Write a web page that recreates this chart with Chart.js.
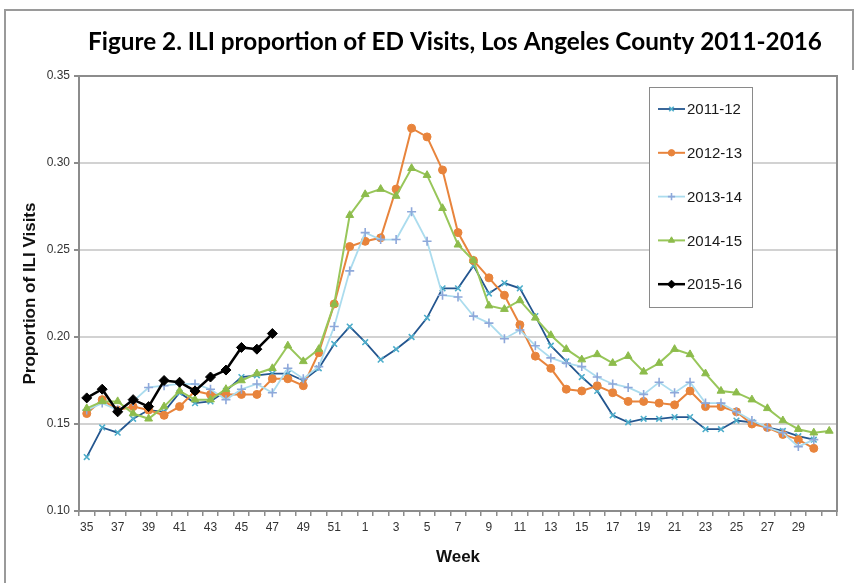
<!DOCTYPE html>
<html>
<head>
<meta charset="utf-8">
<title>ILI proportion of ED Visits</title>
<script src="https://cdn.jsdelivr.net/npm/chart.js@4.4.1/dist/chart.umd.min.js"></script>
<style>
  html, body { margin: 0; padding: 0; background: #fff; }
  #wrap { width: 860px; height: 583px; }
</style>
</head>
<body>
<div id="wrap"><canvas id="iliChart" width="860" height="583"></canvas></div>
<script>
// ====== DATA ======
const TITLE = "Figure 2. ILI proportion of ED Visits, Los Angeles County 2011-2016";
const weeks = ["35","36","37","38","39","40","41","42","43","44","45","46","47","48","49","50","51","52",
  "1","2","3","4","5","6","7","8","9","10","11","12","13","14","15","16","17","18","19","20",
  "21","22","23","24","25","26","27","28","29","30","31"];
const yTicks = { min: 0.10, max: 0.35, step: 0.05 };

const s2011 = [0.131,0.148,0.145,0.153,0.158,0.157,0.168,0.162,0.163,0.169,0.177,0.178,0.179,0.179,0.175,0.182,0.196,0.206,
  0.197,0.187,0.193,0.200,0.211,0.228,0.228,0.241,0.225,0.231,0.228,0.212,0.195,0.186,0.177,0.169,0.155,0.151,0.153,0.153,
  0.154,0.154,0.147,0.147,0.152,0.151,0.148,0.146,0.143,0.141,null];
const s2012 = [0.156,0.164,0.158,0.160,0.158,0.155,0.160,0.169,0.167,0.167,0.167,0.167,0.176,0.176,0.172,0.191,0.219,0.252,
  0.255,0.257,0.285,0.320,0.315,0.296,0.260,0.244,0.234,0.224,0.207,0.189,0.182,0.170,0.169,0.172,0.168,0.163,0.163,0.162,
  0.161,0.169,0.160,0.160,0.157,0.150,0.148,0.144,0.141,0.136,null];
const s2013 = [0.158,0.162,0.158,0.163,0.171,0.172,0.173,0.173,0.170,0.164,0.170,0.173,0.168,0.182,0.176,0.183,0.206,0.238,
  0.260,0.256,0.256,0.272,0.255,0.224,0.223,0.212,0.208,0.199,0.204,0.195,0.188,0.185,0.183,0.177,0.173,0.171,0.167,0.174,
  0.168,0.174,0.162,0.162,0.157,0.152,0.148,0.145,0.137,0.141,null];
const s2014 = [0.159,0.163,0.163,0.156,0.153,0.160,0.169,0.164,0.164,0.170,0.175,0.179,0.182,0.195,0.186,0.193,0.219,0.270,
  0.282,0.285,0.281,0.297,0.293,0.274,0.253,0.244,0.218,0.216,0.221,0.211,0.201,0.193,0.187,0.190,0.185,0.189,0.180,0.185,
  0.193,0.190,0.179,0.169,0.168,0.164,0.159,0.152,0.147,0.145,0.146];
const s2015 = [0.165,0.170,0.157,0.164,0.160,0.175,0.174,0.169,0.177,0.181,0.194,0.193,0.202];

// ====== HELPERS ======
function series(label, data, line, marker, style, radius, width, order) {
  return {
    label, data, order,
    borderColor: line, borderWidth: width,
    pointStyle: style, pointRadius: radius, pointHoverRadius: radius,
    pointBackgroundColor: marker, pointBorderColor: marker,
    pointBorderWidth: (style === "cross" || style === "crossRot") ? 1.6 : 1,
    tension: 0, spanGaps: false, fill: false
  };
}

const datasets = [
  series("2011-12", s2011, "#24568f", "#4eaecb", "crossRot", 4, 1.8, 4),
  series("2012-13", s2012, "#e8843c", "#e8843c", "circle", 4, 2, 3),
  series("2013-14", s2013, "#abdcee", "#8ea8da", "cross", 4.5, 1.8, 2),
  series("2014-15", s2014, "#98c65a", "#8dbc4c", "triangle", 4.5, 2, 1),
  series("2015-16", s2015, "#000000", "#000000", "rectRot", 5, 2.5, 0)
];

// title, outer frame, plot border and boxed legend
const decorPlugin = {
  id: "decor",
  beforeDraw(chart) {
    const ctx = chart.ctx;
    ctx.save();
    ctx.fillStyle = "#fff";
    ctx.fillRect(0, 0, chart.width, chart.height);
    ctx.strokeStyle = "#9a9a9a";
    ctx.lineWidth = 2;
    ctx.beginPath();
    ctx.moveTo(5, 583); ctx.lineTo(5, 10); ctx.lineTo(853, 10); ctx.lineTo(853, 70);
    ctx.stroke();
    // title, fitted to the reference width
    let size = 21;
    ctx.font = `bold ${size}px Lato`;
    const w = ctx.measureText(TITLE).width;
    size = size * 734 / w;
    ctx.font = `bold ${size}px Lato`;
    ctx.fillStyle = "#000";
    ctx.textAlign = "center";
    ctx.textBaseline = "middle";
    ctx.fillText(TITLE, 455, 42);
    ctx.restore();
  },
  beforeDatasetsDraw(chart) {
    const {ctx, chartArea: a} = chart;
    ctx.save();
    ctx.strokeStyle = "#8c8c8c";
    ctx.lineWidth = 2;
    ctx.strokeRect(a.left, a.top, a.right - a.left, a.bottom - a.top);
    ctx.restore();
  },
  afterDatasetsDraw(chart) {
    const ctx = chart.ctx;
    const box = { x: 649, y: 87, w: 103, h: 220 };
    ctx.save();
    ctx.fillStyle = "#fff";
    ctx.fillRect(box.x, box.y, box.w, box.h);
    ctx.strokeStyle = "#8a8a8a";
    ctx.lineWidth = 1;
    ctx.strokeRect(box.x + 0.5, box.y + 0.5, box.w, box.h);
    ctx.font = "15px 'Liberation Sans', Arial";
    ctx.textBaseline = "middle";
    ctx.textAlign = "left";
    chart.data.datasets.forEach((ds, i) => {
      const y = box.y + 22 + i * 43.8;
      ctx.strokeStyle = ds.borderColor;
      ctx.lineWidth = ds.borderWidth;
      ctx.beginPath();
      ctx.moveTo(box.x + 9, y); ctx.lineTo(box.x + 36, y);
      ctx.stroke();
      ctx.fillStyle = ds.pointBackgroundColor;
      ctx.strokeStyle = ds.pointBorderColor;
      ctx.lineWidth = ds.pointBorderWidth;
      Chart.helpers.drawPoint(ctx, {
        pointStyle: ds.pointStyle, radius: ds.pointRadius * 0.8, rotation: 0,
        borderWidth: ds.pointBorderWidth
      }, box.x + 22.5, y);
      ctx.fillStyle = "#1a1a1a";
      ctx.fillText(ds.label, box.x + 38, y + 1);
    });
    ctx.restore();
  }
};

// ====== CHART ======
new Chart(document.getElementById("iliChart"), {
  type: "line",
  data: { labels: weeks, datasets },
  plugins: [decorPlugin],
  options: {
    responsive: false,
    animation: false,
    devicePixelRatio: 1,
    layout: { padding: { left: 10, right: 23, top: 76, bottom: 10 } },
    plugins: { legend: { display: false }, tooltip: { enabled: false } },
    scales: {
      x: {
        type: "category",
        offset: true,
        afterFit: (s) => { s.height = 62; },
        grid: { display: true, drawOnChartArea: false, offset: true, tickLength: 5, color: "#8c8c8c", lineWidth: 1.5 },
        border: { display: true, color: "#8c8c8c", width: 2 },
        ticks: {
          autoSkip: false, maxRotation: 0, padding: 4,
          color: "#333", font: { family: "'Liberation Sans', Arial", size: 12 },
          callback: (v, i) => (i % 2 === 0 && i < weeks.length - 1) ? weeks[i] : ""
        },
        title: {
          display: true, text: "Week", color: "#111",
          font: { family: "'Liberation Sans', Arial", size: 17, weight: "bold" },
          padding: { top: 4, bottom: 5 }
        }
      },
      y: {
        min: yTicks.min, max: yTicks.max,
        afterFit: (s) => { s.width = 69; },
        grid: { color: "#d2d2d2", lineWidth: 2, tickLength: 5, tickColor: "#8c8c8c" },
        border: { display: true, color: "#8c8c8c", width: 2 },
        ticks: {
          stepSize: yTicks.step, padding: 4,
          color: "#333", font: { family: "'Liberation Sans', Arial", size: 12 },
          callback: (v) => Number(v).toFixed(2)
        },
        title: {
          display: true, text: "Proportion of ILI Visits", color: "#111",
          font: { family: "'Liberation Sans', Arial", size: 17, weight: "bold" },
          padding: { top: 10, bottom: 4 }
        }
      }
    }
  }
});
</script>
</body>
</html>
